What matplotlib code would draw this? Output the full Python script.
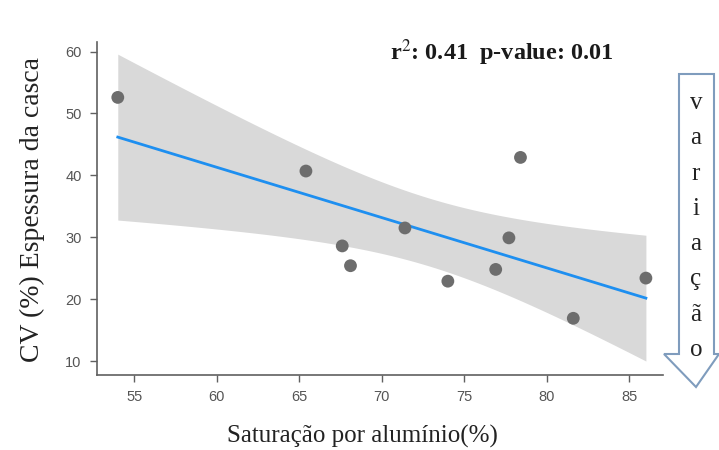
import numpy as np
import matplotlib
matplotlib.use("Agg")
import matplotlib.pyplot as plt
from matplotlib.patches import Polygon

# Aluminium saturation (%) vs CV (%) of bark thickness
saturacao = [54.0, 65.4, 67.6, 68.1, 71.4, 74.0, 76.9, 77.7, 78.4, 81.6, 86.0]
cv_casca = [52.6, 40.7, 28.6, 25.4, 31.5, 22.9, 24.8, 29.9, 42.9, 16.9, 23.4]

x_ticks = [55, 60, 65, 70, 75, 80, 85]
y_ticks = [10, 20, 30, 40, 50, 60]
stats_label = r"r$^{2}$: 0.41  p-value: 0.01"
arrow_word = "variação"

T_975_DF9 = 2.262  # two-sided 95% t quantile, 9 degrees of freedom

plt.rcParams["mathtext.fontset"] = "stix"

fig = plt.figure(figsize=(7.19, 4.5), dpi=100)
ax = fig.add_axes([0.1349, 0.1667, 0.7873, 0.7406])

x = np.array(saturacao)
y = np.array(cv_casca)
n = len(x)
slope, intercept = np.polyfit(x, y, 1)
resid = y - (slope * x + intercept)
s = np.sqrt(np.sum(resid ** 2) / (n - 2))
sxx = np.sum((x - x.mean()) ** 2)

xs = np.linspace(x.min(), x.max(), 200)
fit = slope * xs + intercept
half = T_975_DF9 * s * np.sqrt(1 / n + (xs - x.mean()) ** 2 / sxx)

ax.fill_between(xs, fit - half, fit + half, color="#d9d9d9", lw=0, zorder=1)
ax.plot(xs, fit, color="#1e8ff0", lw=2, zorder=2)
ax.scatter(x, y, s=85, color="#6d6d6d", edgecolors="none", zorder=3)

ax.set_xlim(52.74, 87.04)
ax.set_ylim(7.74, 61.6)
ax.set_xticks(x_ticks)
ax.set_yticks(y_ticks)
for side in ("top", "right"):
    ax.spines[side].set_visible(False)
for side in ("left", "bottom"):
    ax.spines[side].set_color("#606060")
    ax.spines[side].set_linewidth(1.2)
ax.tick_params(colors="#606060", labelcolor="#555555", length=5, width=1,
               labelsize=10.5, pad=6)
for lbl in ax.get_xticklabels() + ax.get_yticklabels():
    lbl.set_fontfamily("Liberation Sans")

serif = "Liberation Serif"
fig.text(362 / 719, 1 - 436 / 450, "Saturação por alumínio(%)", fontsize=18,
         family=serif, color="#222222", ha="center", va="center")
fig.text(32 / 719, 1 - 210 / 450, "CV (%) Espessura da casca", rotation=90,
         fontsize=20, family=serif, color="#222222", ha="center", va="center")
fig.text(390 / 719, 1 - 53 / 450, stats_label, fontsize=17.5, family=serif,
         fontweight="bold", color="#1a1a1a", ha="left", va="center")

# Outlined down arrow with the word stacked inside
W, H = 719, 450
pts_px = [(679, 74), (714, 74), (714, 354), (719, 354), (696, 387),
          (664, 354), (679, 354)]
arrow = Polygon([(px / W, 1 - py / H) for px, py in pts_px], closed=True,
                transform=fig.transFigure, facecolor="white",
                edgecolor="#7f9cbd", lw=1.5, clip_on=False)
fig.add_artist(arrow)
for i, ch in enumerate(arrow_word):
    fig.text(696 / W, 1 - (103 + i * 35.3) / H, ch, fontsize=18, family=serif,
             color="#222222", ha="center", va="center")

fig.savefig("out.png", dpi=100)
